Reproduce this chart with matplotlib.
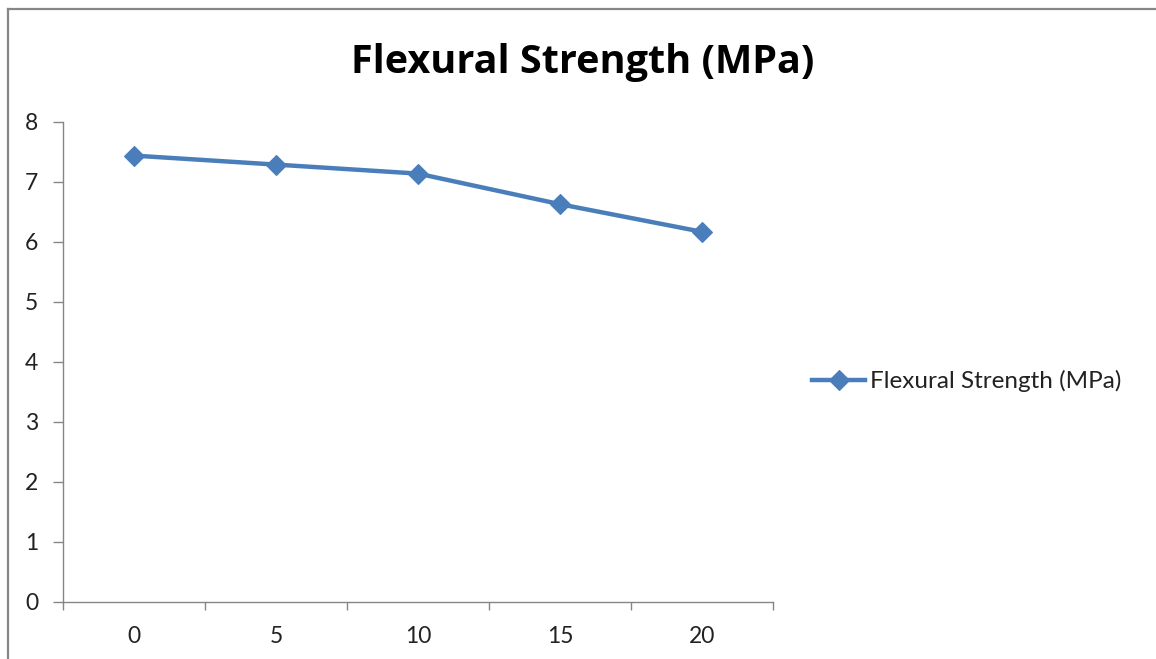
import matplotlib
matplotlib.use("Agg")
import matplotlib.pyplot as plt
from matplotlib.lines import Line2D

plt.rcParams['font.family'] = ['Lato', 'DejaVu Sans']

categories = ["0", "5", "10", "15", "20"]
strength = [7.44, 7.29, 7.14, 6.63, 6.17]
y_ticks = [0, 1, 2, 3, 4, 5, 6, 7, 8]
series_name = "Flexural Strength (MPa)"

W, H = 1156, 659
fig = plt.figure(figsize=(W / 100, H / 100), dpi=100)
fig.patch.set_facecolor("white")

# outer chart frame (left and top edges)
fig.add_artist(Line2D([8 / W, 8 / W], [0, 1 - 9 / H], transform=fig.transFigure,
                      color="#878787", lw=1.6))
fig.add_artist(Line2D([8 / W, 1], [1 - 9 / H, 1 - 9 / H], transform=fig.transFigure,
                      color="#878787", lw=1.6))

ax = fig.add_axes([63 / W, 57 / H, 710 / W, 480 / H])
x = list(range(len(categories)))
line, = ax.plot(x, strength, color="#4A7EBB", lw=3.2, marker="D", markersize=10.5,
                markeredgewidth=0.8, label=series_name, solid_joinstyle="round")

ax.set_xlim(-0.5, len(categories) - 0.5)
ax.set_ylim(0, 8)
ax.set_yticks(y_ticks)
ax.set_yticklabels([str(v) for v in y_ticks])
ax.set_xticks(x)
ax.set_xticklabels(categories)
ax.set_xticks([i - 0.5 for i in range(len(categories) + 1)], minor=True)

for s in ["top", "right"]:
    ax.spines[s].set_visible(False)
for s in ["left", "bottom"]:
    ax.spines[s].set_color("#868686")
    ax.spines[s].set_linewidth(1.0)

ax.tick_params(axis="y", direction="out", length=7, width=1.0, color="#868686",
               labelsize=16.5, pad=11, labelcolor="#222222")
ax.tick_params(axis="x", which="major", length=0, labelsize=16.5, pad=17,
               labelcolor="#222222")
ax.tick_params(axis="x", which="minor", direction="out", length=6, width=1.0,
               color="#868686")

fig.text(583 / W, 1 - 62 / H, "Flexural Strength (MPa)", ha="center", va="center",
         fontsize=28.5, fontweight="bold", color="black",
         family=["Open Sans", "DejaVu Sans"])

leg = fig.legend(handles=[line], loc="center left",
                 bbox_to_anchor=(812 / W, 1 - 381 / H), frameon=False,
                 fontsize=17.5, handlelength=2.2, handletextpad=0.2,
                 borderaxespad=0, borderpad=0)
for t in leg.get_texts():
    t.set_color("#222222")

fig.savefig("out.png", dpi=100, facecolor="white")
